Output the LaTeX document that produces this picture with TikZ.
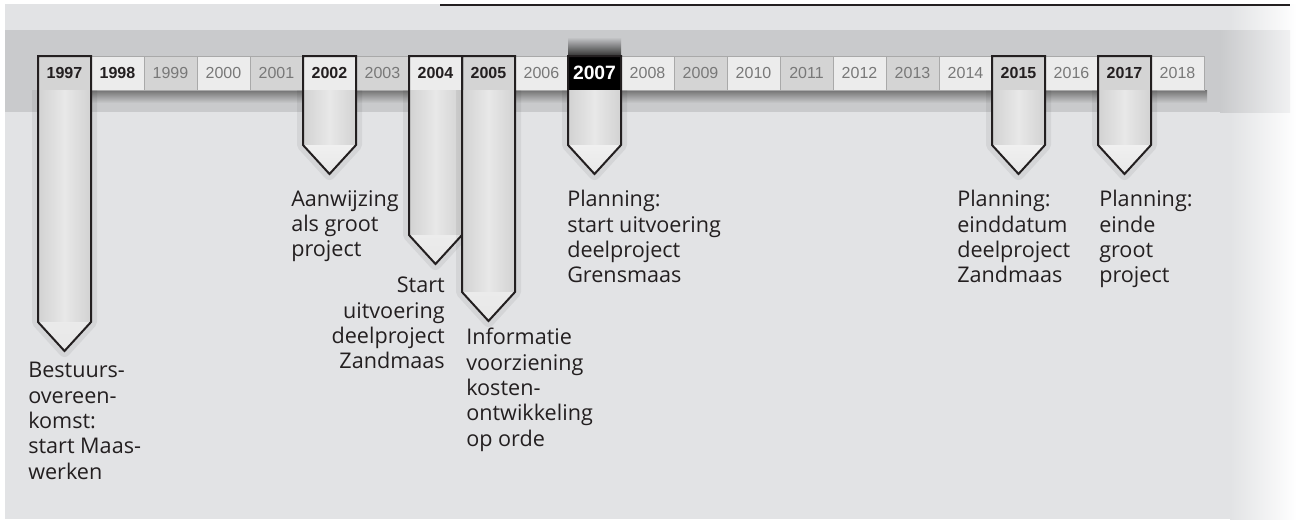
\documentclass[tikz,border=0pt]{standalone}
\usepackage{fontspec}
\setmainfont{Open Sans}
\newfontfamily\yearfont{Liberation Sans}
\usepackage{xcolor}
\definecolor{bggrey}{HTML}{E2E3E5}
\definecolor{bandgrey}{HTML}{C9CACC}
\definecolor{celllight}{HTML}{ECECEC}
\definecolor{celldark}{HTML}{D4D4D4}
\definecolor{cellline}{HTML}{A9A9A9}
\definecolor{inkgrey}{HTML}{231F20}
\definecolor{yeargrey}{HTML}{787878}
\definecolor{pinedge}{HTML}{D2D2D2}
\definecolor{pinmid}{HTML}{E8E8E8}

\tikzset{
  yearcell/.style={rectangle,draw=cellline,line width=0.6pt,minimum width=39.75pt,
    minimum height=25.5pt,inner sep=0pt,outer sep=0pt},
  oddcell/.style={yearcell,fill=celldark},
  evencell/.style={yearcell,fill=celllight},
  majoryear/.style={font=\yearfont\bfseries\fontsize{12}{12}\selectfont,text=inkgrey},
  minoryear/.style={font=\yearfont\fontsize{12}{12}\selectfont,text=yeargrey},
  eventtext/.style={font=\fontsize{16.2}{19}\selectfont,text=inkgrey,align=left,
    anchor=north west,inner sep=0pt},
  pinline/.style={draw=inkgrey,line width=1.5pt,line join=miter},
  pinhalo/.style={draw=black,opacity=0.06,line width=9pt,line join=round}
}

% #1 = cell, #2 = length of the straight part under the cell
\newcommand\yearpin[2]{%
  \draw[pinhalo] (#1.south west) -- ++(0,#2) -- ++(26.5,29) -- ++(26.5,-29) -- (#1.south east);
  \shade[left color=pinedge,right color=pinedge,middle color=pinmid]
    (#1.south west) rectangle ++(53,#2);
  \shade[top color=white,bottom color=pinmid]
    (#1.south west) ++(0,#2) -- ++(26.5,29) -- ++(26.5,-29) -- cycle;
  \draw[pinline] (#1.north west) -- ++(0,#2+34) -- ++(26.5,29) -- ++(26.5,-29)
    -- (#1.north east) -- cycle;
}

\begin{document}
\begin{tikzpicture}[x=0.75pt,y=-0.75pt]
\useasboundingbox (0,0) rectangle (1297,519);

% background and band
\fill[white] (0,0) rectangle (1297,519);
\fill[bggrey] (5,4) rectangle (1230,519);
\shade[left color=bggrey,right color=white] (1230,4) rectangle (1297,519);
\fill[bandgrey] (5,30) rectangle (1220,112);
\shade[left color=bandgrey,right color=bggrey!50!white] (1220,30) rectangle (1290,112);
\draw[inkgrey,line width=1.5pt] (440,5) -- (1290,5);

% shadow under the row of years
\shade[top color=black!55,bottom color=bandgrey] (38,90) rectangle (1207,103);
\shade[top color=bandgrey,bottom color=black!80] (568,37) rectangle (621,56);

\node at (64.5,73) [oddcell,majoryear] (y1997) {1997};
\node at (117.5,73) [evencell,majoryear] (y1998) {1998};
\node at (170.5,73) [oddcell,minoryear] (y1999) {1999};
\node at (223.5,73) [evencell,minoryear] (y2000) {2000};
\node at (276.5,73) [oddcell,minoryear] (y2001) {2001};
\node at (329.5,73) [evencell,majoryear] (y2002) {2002};
\node at (382.5,73) [oddcell,minoryear] (y2003) {2003};
\node at (435.5,73) [evencell,majoryear] (y2004) {2004};
\node at (488.5,73) [oddcell,majoryear] (y2005) {2005};
\node at (541.5,73) [evencell,minoryear] (y2006) {2006};
\node at (594.5,73) [yearcell,fill=black,font=\yearfont\bfseries\fontsize{14.5}{14.5}\selectfont,text=white] (y2007) {2007};
\node at (647.5,73) [evencell,minoryear] (y2008) {2008};
\node at (700.5,73) [oddcell,minoryear] (y2009) {2009};
\node at (753.5,73) [evencell,minoryear] (y2010) {2010};
\node at (806.5,73) [oddcell,minoryear] (y2011) {2011};
\node at (859.5,73) [evencell,minoryear] (y2012) {2012};
\node at (912.5,73) [oddcell,minoryear] (y2013) {2013};
\node at (965.5,73) [evencell,minoryear] (y2014) {2014};
\node at (1018.5,73) [oddcell,majoryear] (y2015) {2015};
\node at (1071.5,73) [evencell,minoryear] (y2016) {2016};
\node at (1124.5,73) [oddcell,majoryear] (y2017) {2017};
\node at (1177.5,73) [evencell,minoryear] (y2018) {2018};

% pins
\yearpin{y1997}{232}
\yearpin{y2002}{55}
\yearpin{y2004}{145}
\yearpin{y2005}{202}
\yearpin{y2007}{55}
\yearpin{y2015}{55}
\yearpin{y2017}{55}

% texts
\node at (28,362) [eventtext] (t1997) {Bestuurs-\\overeen-\\komst:\\start Maas-\\werken};
\node at (291,190) [eventtext] (t2002) {Aanwijzing\\als groot\\project};
\node at (445,277) [eventtext,anchor=north east,align=right] (t2004) {Start\\uitvoering\\deelproject\\Zandmaas};
\node at (466,328) [eventtext] (t2005) {Informatie\\voorziening\\kosten-\\ontwikkeling\\op orde};
\node at (567,190) [eventtext] (t2007) {Planning:\\start uitvoering\\deelproject\\Grensmaas};
\node at (957,190) [eventtext] (t2015) {Planning:\\einddatum\\deelproject\\Zandmaas};
\node at (1099,190) [eventtext] (t2017) {Planning:\\einde\\groot\\project};
\end{tikzpicture}
\end{document}
